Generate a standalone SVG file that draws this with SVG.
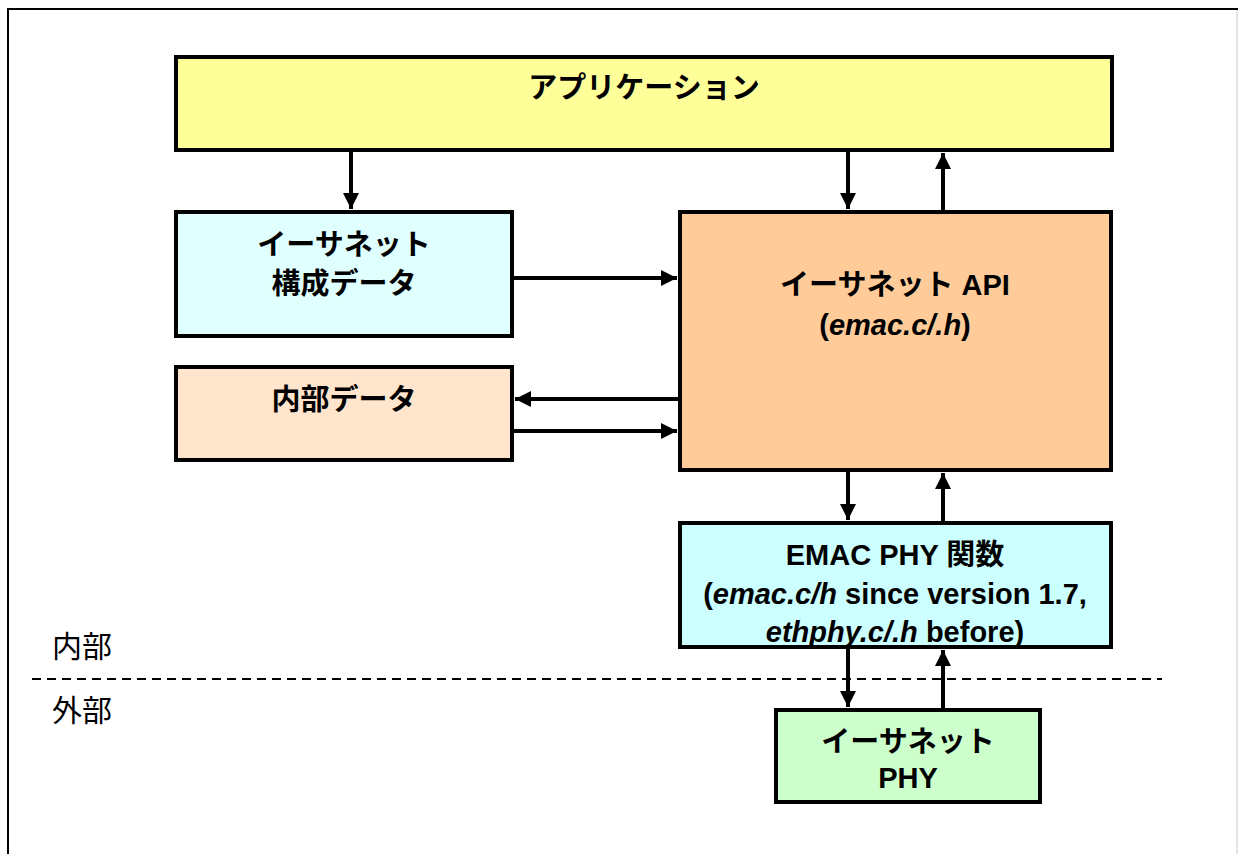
<svg xmlns="http://www.w3.org/2000/svg" width="1238" height="854" viewBox="0 0 1238 854">
<style>
.box{stroke:#000;stroke-width:4}
.t{font-family:"Liberation Sans","Noto Sans CJK JP",sans-serif;font-weight:bold;font-size:29px;text-anchor:middle;fill:#000}
.lbl{font-family:"Noto Sans CJK JP","Liberation Sans",sans-serif;font-size:30px;fill:#000}
.c{stroke:#000;stroke-width:4;fill:none;marker-end:url(#ah)}
</style>
<defs>
<marker id="ah" viewBox="0 0 10 10" refX="10" refY="5" markerWidth="4" markerHeight="4" orient="auto" markerUnits="strokeWidth">
<path d="M0,0 L10,5 L0,10 Z" fill="#000"/>
</marker>
</defs>
<rect x="0" y="0" width="1238" height="854" fill="#fff"/>
<path d="M8,854 V9 H1238" fill="none" stroke="#000" stroke-width="2"/>
<line x1="1237" y1="10" x2="1237" y2="854" stroke="#ccc" stroke-width="1"/>

<g id="app">
<rect class="box" x="176" y="57" width="936" height="93" fill="#FFFF99"/>
<text class="t" x="644" y="98">アプリケーション</text>
</g>
<g id="config">
<rect class="box" x="176" y="212" width="336" height="124" fill="#E0FFFF"/>
<text class="t" x="344" y="255">イーサネット</text>
<text class="t" x="344" y="294">構成データ</text>
</g>
<g id="internal">
<rect class="box" x="176" y="367" width="336" height="93" fill="#FFE5CC"/>
<text class="t" x="344" y="410">内部データ</text>
</g>
<g id="api">
<rect class="box" x="680" y="212" width="431" height="258" fill="#FFCC99"/>
<text class="t" x="895" y="295">イーサネット API</text>
<text class="t" x="895" y="335">(<tspan font-style="italic">emac.c/.h</tspan>)</text>
</g>
<g id="emacphy">
<rect x="680" y="523" width="431" height="124" fill="#CCFFFF"/>
<text class="t" x="895" y="565">EMAC PHY 関数</text>
<text class="t" x="895" y="604">(<tspan font-style="italic">emac.c/h</tspan> since version 1.7,</text>
<text class="t" x="895" y="642"><tspan font-style="italic">ethphy.c/.h</tspan> before)</text>
<rect class="box" x="680" y="523" width="431" height="124" fill="none"/>
</g>
<g id="phy">
<rect class="box" x="776" y="710" width="264" height="92" fill="#CCFFCC"/>
<text class="t" x="908" y="752">イーサネット</text>
<text class="t" x="908" y="788">PHY</text>
</g>

<g id="connectors">
<line class="c" x1="351" y1="152" x2="351" y2="209"/>
<line class="c" x1="848" y1="152" x2="848" y2="209"/>
<line class="c" x1="943" y1="210" x2="943" y2="153"/>
<line class="c" x1="514" y1="278" x2="677" y2="278"/>
<line class="c" x1="678" y1="399" x2="515" y2="399"/>
<line class="c" x1="514" y1="431" x2="677" y2="431"/>
<line class="c" x1="848" y1="472" x2="848" y2="520"/>
<line class="c" x1="943" y1="521" x2="943" y2="473"/>
<line class="c" x1="848" y1="649" x2="848" y2="707"/>
<line class="c" x1="943" y1="708" x2="943" y2="650"/>
</g>

<line x1="32" y1="679" x2="1162" y2="679" stroke="#000" stroke-width="2" stroke-dasharray="9,6"/>
<text class="lbl" x="52" y="657">内部</text>
<text class="lbl" x="52" y="721">外部</text>
</svg>
